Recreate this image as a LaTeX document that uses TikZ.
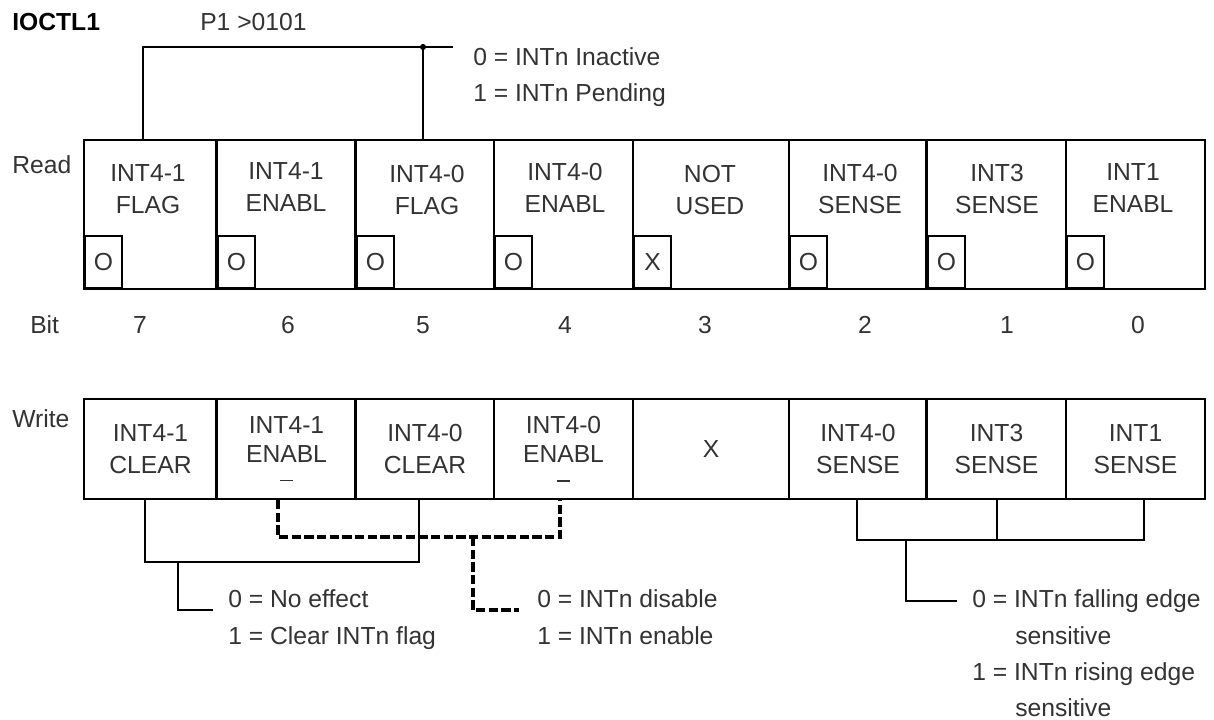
\documentclass[tikz,border=0pt]{standalone}
\usepackage{fontspec}
\setmainfont{Liberation Sans}
\begin{document}
\begin{tikzpicture}[x=0.75pt,y=-0.75pt,
  every node/.style={font=\fontsize{18.5}{24}\selectfont, text=black!80, inner sep=0pt},
  rcell/.style={draw=black, line width=1.3pt, minimum height=111.75pt},
  wcell/.style={draw=black, line width=1.3pt, minimum height=75pt, align=center},
  enablcell/.style={wcell, font=\fontsize{18.5}{21.75}\selectfont},
  flagbox/.style={draw=black, line width=1.3pt, minimum width=28pt, minimum height=39pt, anchor=south west},
  celltext/.style={align=center},
  legend/.style={anchor=base west},
  bitnum/.style={anchor=base},
  wire/.style={line width=1.3pt},
  thickedge/.style={line width=2.2pt},
  dashwire/.style={line width=2.4pt, dash pattern=on 7pt off 2.5pt},
]
\useasboundingbox (0,0) rectangle (1214,720);

% headings
\node[legend, font=\fontsize{18.5}{24}\selectfont\bfseries, text=black] (title) at (12,31) {IOCTL1};
\node[legend] (addr) at (200,31) {P1 >0101};
\node[legend] (readlbl) at (12,174) {Read};
\node[legend] (bitlbl) at (30,334) {Bit};
\node[legend] (writelbl) at (12,427) {Write};

% read row cells
\foreach \n/\cx/\w in {7/150.5/99.75, 6/286.5/104.25, 5/425/103.5, 4/563.5/104.25, 3/711/117, 2/858/103.5, 1/996.5/104.25, 0/1135.5/104.25}
  \node[rcell, minimum width=\w pt] (r\n) at (\cx,214.5) {};

% read row texts
\node[celltext] (r7t) at (148,189) {INT4-1\\FLAG};
\node[celltext] (r6t) at (286,187) {INT4-1\\ENABL};
\node[celltext] (r5t) at (427,190) {INT4-0\\FLAG};
\node[celltext] (r4t) at (565,188) {INT4-0\\ENABL};
\node[celltext] (r3t) at (710,190) {NOT\\USED};
\node[celltext] (r2t) at (860,189) {INT4-0\\SENSE};
\node[celltext] (r1t) at (997,189) {INT3\\SENSE};
\node[celltext] (r0t) at (1133,188) {INT1\\ENABL};

% reset-value boxes
\node[flagbox] (f7) at (84,289) {O};
\node[flagbox] (f6) at (217,289) {O};
\node[flagbox] (f5) at (356,289) {O};
\node[flagbox] (f4) at (494,289) {O};
\node[flagbox] (f3) at (633,289) {X};
\node[flagbox] (f2) at (789,289) {O};
\node[flagbox] (f1) at (927,289) {O};
\node[flagbox] (f0) at (1066,289) {O};

% heavier separators
\draw[thickedge] (r6.north west) -- (r6.south west);
\draw[thickedge] (r5.north west) -- (r5.south west);
\draw[thickedge] (r1.north west) -- (r1.south west);

% bit numbers
\node[bitnum] (b7) at (140,334) {7};
\node[bitnum] (b6) at (288,334) {6};
\node[bitnum] (b5) at (423,334) {5};
\node[bitnum] (b4) at (565,334) {4};
\node[bitnum] (b3) at (705,334) {3};
\node[bitnum] (b2) at (865,334) {2};
\node[bitnum] (b1) at (1007,334) {1};
\node[bitnum] (b0) at (1138,334) {0};

% write row cells
\node[wcell, minimum width=99.75pt] (w7) at (150.5,449) {INT4-1\\CLEAR};
\node[enablcell, minimum width=104.25pt] (w6) at (286.5,449) {INT4-1\\ENABL\\[-7.5pt]\rule{10pt}{1.2pt}};
\node[wcell, minimum width=103.5pt] (w5) at (425,449) {INT4-0\\CLEAR};
\node[enablcell, minimum width=104.25pt] (w4) at (563.5,449) {INT4-0\\ENABL\\[-7.5pt]\rule{10pt}{1.2pt}};
\node[wcell, minimum width=117pt] (w3) at (711,449) {X};
\node[wcell, minimum width=103.5pt] (w2) at (858,449) {INT4-0\\SENSE};
\node[wcell, minimum width=104.25pt] (w1) at (996.5,449) {INT3\\SENSE};
\node[wcell, minimum width=104.25pt] (w0) at (1135.5,449) {INT1\\SENSE};

\draw[thickedge] (w6.north west) -- (w6.south west);
\draw[thickedge] (w5.north west) -- (w5.south west);
\draw[thickedge] (w1.north west) -- (w1.south west);

% top connector (read flags)
\coordinate (tl) at (143,47);
\coordinate (tdot) at (423,47);
\coordinate (tend) at (453,47);
\draw[wire] (r7.north -| tl) -- (tl) -- (tend);
\draw[wire] (r5.north -| tdot) -- (tdot);
\fill (tdot) circle (2.3pt);
\node[legend] (lg1a) at (473,66) {0 = INTn Inactive};
\node[legend] (lg1b) at (473,102) {1 = INTn Pending};

% clear connector
\coordinate (sA) at (145,562);
\coordinate (sB) at (419,562);
\coordinate (sM) at (178,562);
\coordinate (sE) at (213,610);
\draw[wire] (w7.south -| sA) -- (sA) -- (sB) -- (w5.south -| sB);
\draw[wire] (sM) |- (sE);
\node[legend] (lg2a) at (228,607) {0 = No effect};
\node[legend] (lg2b) at (228,644) {1 = Clear INTn flag};

% enable connector (dashed)
\coordinate (dA) at (278,537);
\coordinate (dB) at (560,537);
\coordinate (dM) at (473,537);
\coordinate (dE) at (519,610);
\draw[dashwire] (w6.south -| dA) -- (dA) -- (dB) -- (w4.south -| dB);
\draw[dashwire] (dM) |- (dE);
\node[legend] (lg3a) at (537,607) {0 = INTn disable};
\node[legend] (lg3b) at (537,644) {1 = INTn enable};

% sense connector
\coordinate (eA) at (857,540);
\coordinate (eB) at (997,540);
\coordinate (eC) at (1144,540);
\coordinate (eM) at (906,540);
\coordinate (eE) at (957,601);
\draw[wire] (w2.south -| eA) -- (eA) -- (eC) -- (w0.south -| eC);
\draw[wire] (w1.south -| eB) -- (eB);
\draw[wire] (eM) |- (eE);
\node[legend] (lg4a) at (972,607) {0 = INTn falling edge};
\node[legend] (lg4b) at (1015,644) {sensitive};
\node[legend] (lg4c) at (972,680) {1 = INTn rising edge};
\node[legend] (lg4d) at (1015,716) {sensitive};
\end{tikzpicture}
\end{document}
